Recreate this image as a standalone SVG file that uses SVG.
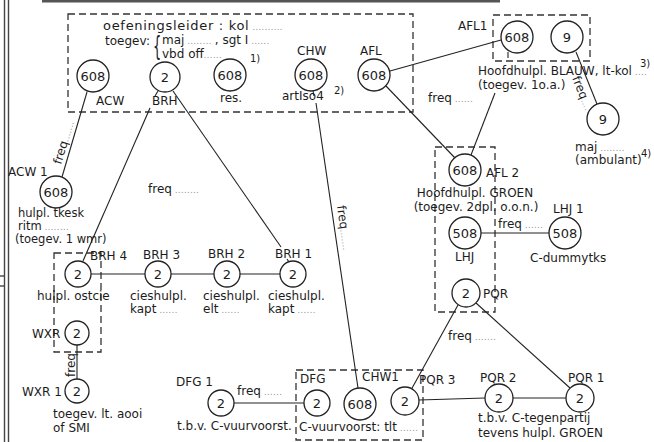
<svg xmlns="http://www.w3.org/2000/svg" width="654" height="442" viewBox="0 0 654 442">
<style>
.t{font-family:"DejaVu Sans",sans-serif;font-size:12px;fill:#1c1c1c}
.num{font-size:13px;text-anchor:middle}
.sup{font-size:10px}
.sm{font-size:11.5px}
.dt{font-size:8px;fill:#8a8a8a;letter-spacing:0.5px}
.n{fill:#fff;stroke:#222;stroke-width:1.3}
.c{stroke:#222;stroke-width:1.1;fill:none}
.box{fill:none;stroke:#333;stroke-width:1.3;stroke-dasharray:7 4}
.fr{stroke:#444;stroke-width:1.4;fill:none}
</style>
<rect width="654" height="442" fill="#fff"/>
<g id="frame">
<line class="fr" x1="4.5" y1="0" x2="4.5" y2="442"/>
<line class="fr" x1="8.5" y1="0" x2="8.5" y2="442"/>
<line x1="42" y1="1" x2="500" y2="1" stroke="#555" stroke-width="3"/>
<line class="fr" x1="0" y1="276" x2="4" y2="276"/>
<line class="fr" x1="0" y1="286" x2="4" y2="286"/>
</g>
<g id="boxes">
<rect class="box" x="68" y="14" width="345" height="98"/>
<rect class="box" x="493" y="15" width="97" height="46"/>
<rect class="box" x="435" y="147" width="60" height="165"/>
<rect class="box" x="54" y="253" width="47" height="99"/>
<rect class="box" x="296" y="370" width="127" height="70"/>
</g>
<g id="connectors">
<line class="c" x1="87" y1="92" x2="62" y2="177"/>
<line class="c" x1="158" y1="91" x2="155" y2="96"/>
<line class="c" x1="150" y1="108" x2="83" y2="261"/>
<line class="c" x1="173" y1="91" x2="281" y2="247"/>
<line class="c" x1="287" y1="259" x2="289" y2="262"/>
<line class="c" x1="313" y1="91" x2="314" y2="96"/>
<line class="c" x1="316" y1="103" x2="358" y2="388"/>
<line class="c" x1="390" y1="71" x2="501" y2="40"/>
<line class="c" x1="386" y1="86" x2="455" y2="158"/>
<line class="c" x1="508" y1="52" x2="508" y2="58"/>
<line class="c" x1="495" y1="93" x2="471" y2="155"/>
<line class="c" x1="576" y1="52" x2="597" y2="104"/>
<line class="c" x1="481" y1="233" x2="549" y2="233"/>
<line class="c" x1="458" y1="305" x2="411" y2="390"/>
<line class="c" x1="476" y1="303" x2="570" y2="388"/>
<line class="c" x1="419" y1="400" x2="485" y2="398"/>
<line class="c" x1="513" y1="398" x2="566" y2="398"/>
<line class="c" x1="234" y1="403" x2="304" y2="403"/>
<line class="c" x1="77" y1="345" x2="77" y2="379"/>
<line class="c" x1="91" y1="274" x2="145" y2="274"/>
<line class="c" x1="171" y1="274" x2="214" y2="274"/>
<line class="c" x1="240" y1="274" x2="280" y2="274"/>
</g>
<g id="connector-labels" class="t">
<text transform="translate(61,165) rotate(-73)">freq<tspan class="dt">.......</tspan></text>
<text transform="translate(337,206) rotate(82)">freq<tspan class="dt">.......</tspan></text>
<text transform="translate(572,78) rotate(68)">freq<tspan class="dt">....</tspan></text>
<text transform="translate(75,377) rotate(-90)">freq</text>
<text x="148" y="193">freq<tspan class="dt"> ........</tspan></text>
<text x="428" y="102">freq<tspan class="dt"> ......</tspan></text>
<text x="498" y="228">freq<tspan class="dt"> ......</tspan></text>
<text x="448" y="340">freq<tspan class="dt"> .......</tspan></text>
<text x="237" y="395">freq<tspan class="dt"> ......</tspan></text>
</g>
<g id="header" class="t">
<text x="103" y="30" style="font-size:13px;letter-spacing:0.7px">oefeningsleider : kol<tspan class="dt"> ..........</tspan></text>
<text x="105" y="45">toegev:</text>
<text transform="translate(153,55) scale(0.5,1)" style="font-size:26px">{</text>
<text x="162" y="44">maj<tspan class="dt"> ........ </tspan>, sgt I<tspan class="dt"> ......</tspan></text>
<text x="162" y="58">vbd off<tspan class="dt">......</tspan></text>
</g>
<g id="ACW"><circle class="n" cx="93" cy="76" r="16"/><text class="t num" x="93" y="81">608</text><text class="t" x="96" y="105">ACW</text></g>
<g id="BRH"><circle class="n" cx="165" cy="77" r="15"/><text class="t num" x="165" y="82">2</text><text class="t" x="152" y="105">BRH</text></g>
<g id="res"><circle class="n" cx="230" cy="75" r="16"/><text class="t num" x="230" y="80">608</text><text class="t" x="220" y="102">res.</text><text class="t sup" x="250" y="62">1)</text></g>
<g id="CHW"><circle class="n" cx="311" cy="75" r="16"/><text class="t num" x="311" y="80">608</text><text class="t" x="297" y="55">CHW</text><text class="t" x="282" y="100">artIso4</text><text class="t sup" x="334" y="94">2)</text></g>
<g id="AFL"><circle class="n" cx="374" cy="75" r="16"/><text class="t num" x="374" y="80">608</text><text class="t" x="360" y="55">AFL</text></g>
<g id="AFL1"><circle class="n" cx="517" cy="37" r="16"/><text class="t num" x="517" y="42">608</text><text class="t" x="458" y="30">AFL1</text></g>
<g id="AFL1-9"><circle class="n" cx="567" cy="37" r="16"/><text class="t num" x="567" y="42">9</text></g>
<g id="AFL1-text" class="t"><text x="478" y="75">Hoofdhulpl. BLAUW, lt-kol<tspan class="dt"> ....</tspan></text><text class="sup" x="640" y="67">3)</text><text x="478" y="89">(toegev. 1o.a.)</text></g>
<g id="maj"><circle class="n" cx="603" cy="119" r="16"/><text class="t num" x="603" y="124">9</text><text class="t" x="575" y="151">maj<tspan class="dt"> ........</tspan></text><text class="t" x="575" y="164">(ambulant)</text><text class="t sup" x="641" y="157">4)</text></g>
<g id="AFL2"><circle class="n" cx="465" cy="170" r="16"/><text class="t num" x="465" y="175">608</text><text class="t" x="486" y="177">AFL 2</text><text class="t" x="475" y="197" text-anchor="middle">Hoofdhulpl. GROEN</text><text class="t" x="476" y="211" text-anchor="middle">(toegev. 2dpl. o.o.n.)</text></g>
<g id="LHJ"><circle class="n" cx="465" cy="233" r="16"/><text class="t num" x="465" y="238">508</text><text class="t" x="455" y="261">LHJ</text></g>
<g id="LHJ1"><circle class="n" cx="565" cy="233" r="16"/><text class="t num" x="565" y="238">508</text><text class="t" x="553" y="213">LHJ 1</text><text class="t" x="530" y="262">C-dummytks</text></g>
<g id="PQR"><circle class="n" cx="466" cy="293" r="14"/><text class="t num" x="466" y="298">2</text><text class="t" x="483" y="298">PQR</text></g>
<g id="PQR1"><circle class="n" cx="580" cy="398" r="14"/><text class="t num" x="580" y="403">2</text><text class="t" x="568" y="382">PQR 1</text></g>
<g id="PQR2"><circle class="n" cx="499" cy="398" r="14"/><text class="t num" x="499" y="403">2</text><text class="t" x="480" y="382">PQR 2</text><text class="t" x="478" y="422">t.b.v. C-tegenpartij</text><text class="t" x="478" y="437">tevens hulpl. GROEN</text></g>
<g id="PQR3"><circle class="n" cx="405" cy="401" r="14"/><text class="t num" x="405" y="406">2</text><text class="t" x="419" y="384">PQR 3</text></g>
<g id="DFG"><circle class="n" cx="317" cy="403" r="13"/><text class="t num" x="317" y="408">2</text><text class="t" x="300" y="383">DFG</text></g>
<g id="CHW1"><circle class="n" cx="360" cy="404" r="16"/><text class="t num" x="360" y="409">608</text><text class="t" x="362" y="381">CHW1</text><text class="t" x="299" y="431">C-vuurvoorst: tlt<tspan class="dt"> ......</tspan></text></g>
<g id="DFG1"><circle class="n" cx="221" cy="403" r="13"/><text class="t num" x="221" y="408">2</text><text class="t" x="176" y="386">DFG 1</text><text class="t" x="177" y="430">t.b.v. C-vuurvoorst.</text></g>
<g id="ACW1"><circle class="n" cx="56" cy="192" r="16"/><text class="t num" x="56" y="197">608</text><text class="t" x="8" y="176">ACW 1</text><text class="t sm" x="18" y="217">hulpl. tkesk</text><text class="t sm" x="18" y="230">ritm<tspan class="dt"> ........</tspan></text><text class="t sm" x="15" y="243">(toegev. 1 wmr)</text></g>
<g id="BRH4"><circle class="n" cx="78" cy="274" r="13"/><text class="t num" x="78" y="279">2</text><text class="t" x="90" y="260">BRH 4</text><text class="t" x="37" y="300">hulpl. ostcie</text></g>
<g id="BRH3"><circle class="n" cx="158" cy="274" r="13"/><text class="t num" x="158" y="279">2</text><text class="t" x="143" y="259">BRH 3</text><text class="t" x="130" y="300">cieshulpl.</text><text class="t" x="130" y="313">kapt<tspan class="dt"> ......</tspan></text></g>
<g id="BRH2"><circle class="n" cx="227" cy="274" r="13"/><text class="t num" x="227" y="279">2</text><text class="t" x="208" y="258">BRH 2</text><text class="t" x="203" y="300">cieshulpl.</text><text class="t" x="203" y="313">elt<tspan class="dt"> ......</tspan></text></g>
<g id="BRH1"><circle class="n" cx="293" cy="274" r="13"/><text class="t num" x="293" y="279">2</text><text class="t" x="275" y="258">BRH 1</text><text class="t" x="268" y="300">cieshulpl.</text><text class="t" x="268" y="313">kapt<tspan class="dt"> ......</tspan></text></g>
<g id="WXR"><circle class="n" cx="77" cy="333" r="12"/><text class="t num" x="77" y="338">2</text><text class="t" x="32" y="338">WXR</text></g>
<g id="WXR1"><circle class="n" cx="77" cy="391" r="12"/><text class="t num" x="77" y="396">2</text><text class="t" x="22" y="396">WXR 1</text><text class="t" x="53" y="418">toegev. lt. aooi</text><text class="t" x="53" y="432">of SMI</text></g>
</svg>
